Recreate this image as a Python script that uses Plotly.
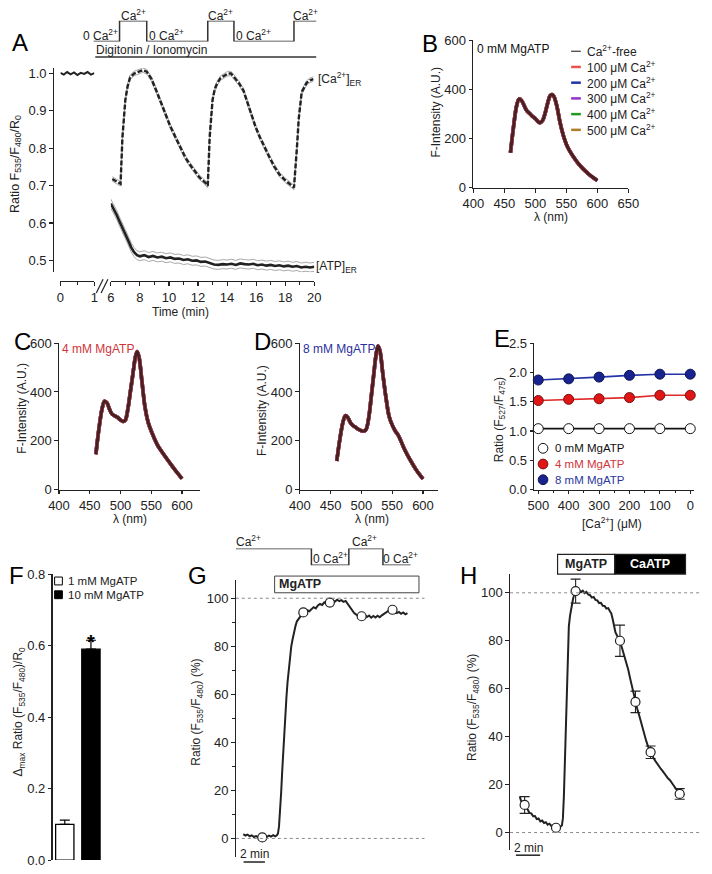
import plotly.graph_objects as go

W, H = 712, 874
FONT = "Arial, Liberation Sans, DejaVu Sans, sans-serif"
INK = "#222222"
TICK = 13

# ===================== DATA =====================
# Panel A - ER Ca2+ / ATP sensor ratio (time, min)
a_base_t = [0.0, 0.1, 0.2, 0.3, 0.4, 0.5, 0.6, 0.7, 0.8, 0.9, 1.0]
a_base_v = [1.002, 0.997, 1.004, 0.998, 1.003, 0.996, 1.002, 0.999, 1.004, 0.997, 1.001]
ca_t = [6.1, 6.3, 6.5, 6.67, 6.8, 6.9, 7.0, 7.15, 7.33, 7.6, 8.0, 8.2, 8.47, 8.8, 9.13, 9.45,
        9.8, 10.1, 10.47, 10.8, 11.13, 11.45, 11.8, 12.1, 12.47, 12.67, 12.8, 12.9, 13.0,
        13.15, 13.33, 13.55, 13.8, 14.05, 14.27, 14.5, 14.8, 15.13, 15.4, 15.67, 15.95,
        16.27, 16.6, 16.93, 17.25, 17.6, 17.95, 18.27, 18.6, 18.8, 18.93, 19.13, 19.47,
        19.7, 19.93]
ca_v = [0.718, 0.714, 0.709, 0.705, 0.83, 0.89, 0.93, 0.965, 0.99, 1.0, 1.006, 1.009, 1.005,
        0.985, 0.954, 0.922, 0.889, 0.858, 0.828, 0.8, 0.775, 0.756, 0.739, 0.722, 0.709,
        0.70, 0.83, 0.89, 0.93, 0.958, 0.975, 0.988, 0.995, 1.0, 1.0, 0.99, 0.975, 0.954,
        0.922, 0.889, 0.858, 0.828, 0.8, 0.775, 0.751, 0.73, 0.716, 0.705, 0.695, 0.80,
        0.88, 0.95, 0.975, 0.982, 0.985]
ca_sem = 0.006
atp_t = [6.0, 6.2, 6.4, 6.6, 6.8, 7.0, 7.2, 7.4, 7.6, 7.8, 8.0, 8.3, 8.6, 8.9, 9.2, 9.5, 9.8,
         10.1, 10.4, 10.7, 11.0, 11.3, 11.6, 11.9, 12.2, 12.5, 12.8, 13.1, 13.4, 13.7, 14.0,
         14.3, 14.6, 14.9, 15.2, 15.5, 15.8, 16.1, 16.4, 16.7, 17.0, 17.3, 17.6, 17.9, 18.2,
         18.5, 18.8, 19.1, 19.4, 19.7, 20.0]
atp_v = [0.652, 0.638, 0.622, 0.604, 0.588, 0.571, 0.553, 0.535, 0.522, 0.514, 0.511, 0.514,
         0.509, 0.512, 0.508, 0.510, 0.506, 0.508, 0.504, 0.505, 0.501, 0.503, 0.499, 0.500,
         0.496, 0.497, 0.492, 0.489, 0.488, 0.490, 0.489, 0.491, 0.488, 0.492, 0.490, 0.489,
         0.491, 0.487, 0.489, 0.486, 0.488, 0.485, 0.487, 0.484, 0.486, 0.483, 0.485, 0.481,
         0.483, 0.481, 0.483]
atp_sem = 0.012
protoA_t = [4.8, 6.6, 8.47, 12.67, 14.47, 18.6, 20.13]
protoA_lvl = [0, 1, 0, 1, 0, 1, 1]
digitonin_span = [4.93, 20.13]

# Panels B-D - emission spectra (all Ca2+ conditions overlap)
wl = [460, 465, 470, 474, 478, 482, 486, 490, 495, 500, 505, 508, 512, 516, 520, 524, 527,
      530, 535, 540, 545, 550, 555, 560, 570, 580, 590, 600]
spec_B = [143, 250, 335, 362, 355, 335, 315, 305, 292, 282, 268, 265, 275, 305, 345, 375, 380,
          372, 330, 265, 215, 178, 152, 132, 97, 70, 48, 30]
spec_C = [145, 250, 330, 362, 355, 330, 310, 303, 296, 285, 279, 285, 330, 400, 470, 540, 566,
          545, 440, 335, 275, 240, 210, 183, 145, 110, 76, 45]
spec_D = [117, 205, 275, 303, 295, 275, 263, 256, 247, 241, 240, 248, 295, 380, 470, 555, 588,
          570, 470, 375, 300, 265, 240, 222, 165, 118, 77, 44]
ca_conditions = ["Ca<sup>2+</sup>-free", "100 μM Ca<sup>2+</sup>", "200 μM Ca<sup>2+</sup>",
                 "300 μM Ca<sup>2+</sup>", "400 μM Ca<sup>2+</sup>", "500 μM Ca<sup>2+</sup>"]
ca_colors = ["#111111", "#e8524a", "#2433a6", "#9b2fc9", "#1e9b1e", "#b07d2a"]

# Panel E - ratio vs [Ca2+]
e_ca = [500, 400, 300, 200, 100, 0]
e_0mM = [1.04, 1.04, 1.04, 1.04, 1.04, 1.04]
e_4mM = [1.52, 1.54, 1.55, 1.57, 1.61, 1.61]
e_8mM = [1.87, 1.89, 1.92, 1.95, 1.97, 1.97]

# Panel F - bars
f_labels = ["1 mM MgATP", "10 mM MgATP"]
f_vals = [0.10, 0.59]
f_err = [0.012, 0.025]

# Panel G - trace (min, %)
g_pts = [(0.7, 1.8), (0.9, 1.2), (1.1, 1.6), (1.3, 0.9), (1.5, 1.3), (1.7, 0.6), (1.9, 1.0),
         (2.1, 0.5), (2.3, 0.8), (2.5, 0.4), (2.7, 0.9), (2.9, 0.6), (3.1, 1.2), (3.3, 0.8),
         (3.5, 1.4), (3.7, 0.9), (3.85, 1.3), (3.95, 2.0), (4.05, 5), (4.15, 11), (4.25, 19),
         (4.35, 28), (4.45, 37), (4.55, 46), (4.65, 53), (4.75, 59), (4.85, 65), (4.97, 71),
         (5.1, 76), (5.2, 80), (5.33, 83), (5.45, 86), (5.6, 88.5), (5.73, 90.4), (5.9, 91.5),
         (6.05, 92.8), (6.2, 93.6), (6.33, 94.1), (6.5, 93.8), (6.7, 95), (6.9, 94.6),
         (7.1, 95.6), (7.3, 96.3), (7.5, 95.8), (7.7, 97), (7.9, 97.6), (8.1, 97.2),
         (8.3, 98.3), (8.5, 97.8), (8.7, 98.6), (8.9, 98.1), (9.1, 99), (9.3, 98.6),
         (9.5, 99.4), (9.7, 98.8), (9.9, 99.2), (10.1, 98.5), (10.3, 98.9), (10.5, 97.6),
         (10.7, 96), (10.9, 94.6), (11.1, 93.8), (11.3, 93.2), (11.5, 92.4), (11.7, 93),
         (11.9, 92.4), (12.1, 93), (12.3, 92.2), (12.5, 92.8), (12.7, 91.9), (12.9, 92.6),
         (13.1, 92), (13.3, 92.7), (13.5, 92.1), (13.7, 92.9), (13.9, 93.5), (14.1, 94.2),
         (14.3, 94.8), (14.5, 95.3), (14.7, 95.2), (14.9, 94.4), (15.1, 93.8), (15.3, 94.3),
         (15.5, 93.5), (15.7, 94.1), (15.9, 93.3), (16.1, 93.8)]
g_circ_t = [2.48, 6.33, 8.82, 11.8, 14.7]
g_circ_v = [0.4, 94.1, 98.2, 92.5, 95.2]
protoG_t = [0, 7.09, 10.6, 13.8, 16.4]
protoG_lvl = [1, 0, 1, 0, 0]
g_mgatp_span = [3.64, 17.18]

# Panel H - trace (min, %)
h_pts = [(0.8, 15), (0.9, 13.2), (1.0, 12.6), (1.1, 11.4), (1.2, 11.0), (1.3, 10.2),
         (1.45, 9.6), (1.6, 8.2), (1.75, 8.0), (1.9, 6.8), (2.05, 6.9), (2.2, 5.6), (2.35, 5.9),
         (2.5, 4.6), (2.65, 5.0), (2.8, 4.0), (2.95, 4.3), (3.1, 3.3), (3.25, 3.7), (3.4, 2.8),
         (3.55, 3.0), (3.7, 2.0), (3.85, 1.8), (4.0, 2.2), (4.15, 2.4), (4.28, 3.0), (4.36, 6),
         (4.44, 15), (4.52, 30), (4.6, 48), (4.68, 65), (4.76, 78), (4.85, 86), (4.95, 90.5),
         (5.08, 94.5), (5.2, 97.5), (5.3, 99.3), (5.41, 100.7), (5.55, 100.2), (5.7, 101),
         (5.85, 100.3), (6.0, 100.9), (6.15, 99.9), (6.3, 100.4), (6.45, 99.3), (6.6, 99.0),
         (6.75, 98.0), (6.9, 98.3), (7.05, 97.0), (7.2, 96.8), (7.35, 95.7), (7.5, 95.8),
         (7.65, 94.6), (7.8, 94.5), (7.95, 93.4), (8.1, 93.6), (8.25, 92.2), (8.35, 91.5),
         (8.45, 89.5), (8.55, 86.5), (8.7, 83.5), (8.85, 82), (9.0, 80.8), (9.15, 78.5),
         (9.3, 76), (9.45, 73.5), (9.6, 71), (9.75, 68), (9.9, 64.5), (10.05, 61), (10.2, 57.5),
         (10.35, 54.5), (10.5, 51.5), (10.65, 49), (10.8, 46), (10.95, 43), (11.1, 40.5),
         (11.25, 38), (11.4, 35.8), (11.55, 34), (11.7, 32.5), (11.85, 31), (12.0, 29.8),
         (12.15, 28.6), (12.3, 27.8), (12.45, 26.5), (12.6, 25.6), (12.75, 24.4), (12.9, 23.6),
         (13.05, 22.5), (13.2, 21.8), (13.35, 20.4), (13.5, 19.6), (13.65, 18.5), (13.8, 17.8),
         (13.95, 16.8), (14.1, 16.6), (14.25, 16.0), (14.4, 15.7)]
h_circ_t = [1.2, 3.79, 5.41, 9.07, 10.35, 11.6, 14.0]
h_circ_v = [11.5, 2.0, 100.7, 80.0, 54.5, 33.5, 16.1]
h_err = [3.5, 0, 5.0, 6.5, 4.5, 2.6, 2.2]
h_mgatp_span = [3.92, 8.64]
h_caatp_span = [8.64, 14.48]

# ===================== HELPERS =====================
def dx(a, b):
    return [a / W, b / W]

def dy(top, bottom):
    return [1 - bottom / H, 1 - top / H]

fig = go.Figure()
annotations = []
shapes = []

def add_line(x, y, xa, ya, color=INK, width=1.5, dash=None, shape="linear", opacity=1.0):
    fig.add_trace(go.Scatter(x=x, y=y, xaxis=xa, yaxis=ya, mode="lines",
                             line=dict(color=color, width=width, dash=dash, shape=shape),
                             opacity=opacity, showlegend=False, hoverinfo="skip"))

def ann(text, x, y, size=12, color=INK, xanchor="center", yanchor="middle", xref="paper",
        angle=0, bold=False):
    if bold:
        text = "<b>" + text + "</b>"
    annotations.append(dict(text=text, x=(x / W if xref == "paper" else x), y=1 - y / H,
                            xref=xref, yref="paper", xanchor=xanchor, yanchor=yanchor,
                            showarrow=False, textangle=angle, borderpad=0,
                            font=dict(size=size, color=color, family=FONT)))

def seg_px(x0, y0, x1, y1, color=INK, width=1.2):
    shapes.append(dict(type="line", xref="paper", yref="paper", x0=x0 / W, x1=x1 / W,
                       y0=1 - y0 / H, y1=1 - y1 / H, line=dict(color=color, width=width)))

def rect(x0, x1, ytop, ybot, xref="paper", fill="white", lc=INK, lw=1.0):
    if xref == "paper":
        x0, x1 = x0 / W, x1 / W
    shapes.append(dict(type="rect", xref=xref, yref="paper", x0=x0, x1=x1,
                       y0=1 - ybot / H, y1=1 - ytop / H, fillcolor=fill,
                       line=dict(color=lc, width=lw)))

def axstyle(**kw):
    base = dict(showline=True, linecolor=INK, linewidth=1.2, ticks="outside", ticklen=3.5,
                tickwidth=1.1, tickcolor=INK, showgrid=False, zeroline=False,
                tickfont=dict(size=TICK, color=INK, family=FONT), fixedrange=True)
    base.update(kw)
    return base

# ===================== PANEL A =====================
add_line(a_base_t, a_base_v, "x", "y", width=2)
add_line(ca_t, [v + ca_sem for v in ca_v], "x2", "y", color="#a8a8a8", width=1)
add_line(ca_t, [v - ca_sem for v in ca_v], "x2", "y", color="#a8a8a8", width=1)
add_line(ca_t, ca_v, "x2", "y", width=2.4, dash="5px,2px")
add_line(atp_t, [v + atp_sem for v in atp_v], "x2", "y", color="#a8a8a8", width=1)
add_line(atp_t, [v - atp_sem for v in atp_v], "x2", "y", color="#a8a8a8", width=1)
add_line(atp_t, atp_v, "x2", "y", width=2.6)
add_line(protoA_t, protoA_lvl, "x3", "y3", color="#333333", width=1.5, shape="hv")
shapes.append(dict(type="line", xref="x3", yref="paper", x0=digitonin_span[0],
                   x1=digitonin_span[1], y0=1 - 51 / H, y1=1 - 51 / H,
                   line=dict(color="#333333", width=1.5)))
ann("0 Ca<sup>2+</sup>", protoA_t[1] - 0.05, 28, xanchor="right", xref="x3")
ann("Ca<sup>2+</sup>", (protoA_t[1] + protoA_t[2]) / 2, 8, xref="x3")
ann("0 Ca<sup>2+</sup>", protoA_t[2] + 0.1, 28, xanchor="left", xref="x3")
ann("Ca<sup>2+</sup>", (protoA_t[3] + protoA_t[4]) / 2, 8, xref="x3")
ann("0 Ca<sup>2+</sup>", protoA_t[4] + 0.1, 28, xanchor="left", xref="x3")
ann("Ca<sup>2+</sup>", (protoA_t[5] + protoA_t[6]) / 2, 8, xref="x3")
ann("Digitonin / Ionomycin", digitonin_span[0], 44, xanchor="left", xref="x3")
ann("[Ca<sup>2+</sup>]<sub>ER</sub>", 316, 73, xanchor="left")
ann("[ATP]<sub>ER</sub>", 314, 265, xanchor="left")
# axis break
seg_px(88, 291, 95, 277, width=1.2)
seg_px(93, 291, 100, 277, width=1.2)
ann("Ratio F<sub>535</sub>/F<sub>480</sub>/R<sub>0</sub>", 5, 160, angle=-90, size=12.5)
ann("Time (min)", 175, 310)
ann("A", 9, 36, size=24, color="black")

# ===================== PANELS B-D =====================
def spectra(spec, xa, ya):
    order = [4, 5, 2, 3, 1]
    for i in order:
        add_line(wl, spec, xa, ya, color=ca_colors[i], width=3.6, shape="spline")
    add_line(wl, spec, xa, ya, color=ca_colors[0], width=3.0, shape="spline", opacity=0.75)

spectra(spec_B, "x4", "y4")
spectra(spec_C, "x5", "y5")
spectra(spec_D, "x6", "y6")

ann("0 mM MgATP", 480, 43, xanchor="left", color="#111111")
legB_y = [45, 61, 77, 93, 109, 125]
for i, (lab, col) in enumerate(zip(ca_conditions, ca_colors)):
    seg_px(578, legB_y[i], 588, legB_y[i], color=col, width=1.0 if i == 0 else 2.5)
    ann(lab, 593, legB_y[i], size=12, xanchor="left")
ann("F-Intensity (A.U.)", 439, 107, angle=-90)
ann("λ (nm)", 557, 214)
ann("B", 432, 37, size=24, color="black")

ann("4 mM MgATP", 52, 348, xanchor="left", color="#d0343a")
ann("F-Intensity (A.U.)", 11, 408, angle=-90)
ann("λ (nm)", 123, 521)
ann("C", 12, 340, size=24, color="black")

ann("8 mM MgATP", 300, 348, xanchor="left", color="#2b2f9e")
ann("F-Intensity (A.U.)", 259, 410, angle=-90)
ann("λ (nm)", 373, 521)
ann("D", 260, 340, size=24, color="black")

# ===================== PANEL E =====================
e_series = [(e_0mM, "#111111", "white", "#111111", "0 mM MgATP", "#111111"),
            (e_4mM, "#e02a2a", "#e01515", "#7a1010", "4 mM MgATP", "#d0343a"),
            (e_8mM, "#2633a8", "#18238f", "#0d1550", "8 mM MgATP", "#2b36a0")]
legE_y = [449, 465, 481]
for k, (vals, lc, fc, mlc, lab, tc) in enumerate(e_series):
    fig.add_trace(go.Scatter(x=e_ca, y=vals, xaxis="x7", yaxis="y7", mode="lines+markers",
                             line=dict(color=lc, width=1.6),
                             marker=dict(size=10, color=fc, line=dict(color=mlc, width=1)),
                             showlegend=False, hoverinfo="skip", cliponaxis=False))
    yy = legE_y[k]
    shapes.append(dict(type="circle", xref="paper", yref="paper", x0=544 / W, x1=554 / W,
                       y0=1 - (yy + 5) / H, y1=1 - (yy - 5) / H, fillcolor=fc,
                       line=dict(color=mlc, width=1)))
    ann(lab, 560, yy, size=11.5, xanchor="left", color=tc)
ann("Ratio (F<sub>527</sub>/F<sub>475</sub>)", 504, 420, angle=-90)
ann("[Ca<sup>2+</sup>] (μM)", 620, 525)
ann("E", 507, 337, size=24, color="black")

# ===================== PANEL F =====================
fig.add_trace(go.Bar(x=[0, 1], y=f_vals, xaxis="x8", yaxis="y8", width=0.7,
                     marker=dict(color=["white", "black"], line=dict(color="black", width=1.3)),
                     error_y=dict(type="data", symmetric=False, array=f_err,
                                  arrayminus=[0, 0], color="black", thickness=1.2, width=5),
                     showlegend=False, hoverinfo="skip"))
annotations.append(dict(text="<b>*</b>", x=1, y=1 - 646 / H, xref="x8", yref="paper",
                        showarrow=False, xanchor="center", yanchor="middle",
                        font=dict(size=20, color="black", family=FONT)))
legF_y = [584, 598]
rect(45, 53, legF_y[0] - 4, legF_y[0] + 4, fill="white", lc="black", lw=1)
rect(45, 53, legF_y[1] - 4, legF_y[1] + 4, fill="black", lc="black", lw=1)
ann(f_labels[0], 58, legF_y[0], size=11.5, xanchor="left")
ann(f_labels[1], 58, legF_y[1], size=11.5, xanchor="left")
ann("Δ<sub>max</sub> Ratio (F<sub>535</sub>/F<sub>480</sub>)/R<sub>0</sub>", 8, 717, angle=-90)
ann("F", 6, 578, size=24, color="black")

# ===================== PANEL G =====================
g_t = [p[0] for p in g_pts]
g_v = [p[1] for p in g_pts]
add_line(g_t, g_v, "x9", "y9", width=2)
fig.add_trace(go.Scatter(x=g_circ_t, y=g_circ_v, xaxis="x9", yaxis="y9", mode="markers",
                         marker=dict(size=9, color="white", line=dict(color=INK, width=1.2)),
                         showlegend=False, hoverinfo="skip", cliponaxis=False))
add_line(protoG_t, protoG_lvl, "x9", "y10", color="#333333", width=1.5, shape="hv")
for yv in (100, 0):
    shapes.append(dict(type="line", xref="x9", yref="y9", x0=0, x1=17.7, y0=yv, y1=yv,
                       line=dict(color="#8a8a8a", width=1, dash="dot")))
rect(g_mgatp_span[0], g_mgatp_span[1], 579, 596, xref="x9", fill="white", lc="#444444", lw=1)
ann("MgATP", g_mgatp_span[0] + 0.3, 587.5, size=12.5, xanchor="left", xref="x9", bold=True)
ann("Ca<sup>2+</sup>", 1.18, 543, xref="x9")
ann("0 Ca<sup>2+</sup>", 8.86, 561, xref="x9")
ann("Ca<sup>2+</sup>", 12.1, 543, xref="x9")
ann("0 Ca<sup>2+</sup>", 15.45, 561, xref="x9")
shapes.append(dict(type="line", xref="x9", yref="paper", x0=0.73, x1=2.73, y0=1 - 870 / H,
                   y1=1 - 870 / H, line=dict(color=INK, width=1.5)))
ann("2 min", 1.73, 862, xref="x9")
ann("Ratio (F<sub>535</sub>/F<sub>480</sub>) (%)", 192, 718, angle=-90)
ann("G", 192, 578, size=24, color="black")

# ===================== PANEL H =====================
h_t = [p[0] for p in h_pts]
h_v = [p[1] for p in h_pts]
add_line(h_t, h_v, "x11", "y11", width=2)
fig.add_trace(go.Scatter(x=h_circ_t, y=h_circ_v, xaxis="x11", yaxis="y11", mode="markers",
                         marker=dict(size=9, color="white", line=dict(color=INK, width=1.2)),
                         error_y=dict(type="data", array=h_err, color=INK, thickness=1.1, width=5),
                         showlegend=False, hoverinfo="skip", cliponaxis=False))
for yv in (100, 0):
    shapes.append(dict(type="line", xref="x11", yref="y11", x0=0, x1=15.76, y0=yv, y1=yv,
                       line=dict(color="#8a8a8a", width=1, dash="dot")))
rect(h_mgatp_span[0], h_mgatp_span[1], 557, 577, xref="x11", fill="white", lc=INK, lw=1.2)
rect(h_caatp_span[0], h_caatp_span[1], 557, 577, xref="x11", fill="black", lc=INK, lw=1.2)
ann("MgATP", sum(h_mgatp_span) / 2, 567, size=12.5, xref="x11", bold=True)
ann("CaATP", sum(h_caatp_span) / 2, 567, size=12.5, xref="x11", bold=True, color="white")
shapes.append(dict(type="line", xref="x11", yref="paper", x0=0.48, x1=2.48, y0=1 - 863 / H,
                   y1=1 - 863 / H, line=dict(color=INK, width=1.5)))
ann("2 min", 1.48, 856, xref="x11")
ann("Ratio (F<sub>535</sub>/F<sub>480</sub>) (%)", 477, 713, angle=-90)
ann("H", 472, 578, size=24, color="black")

# ===================== LAYOUT =====================
layout = dict(
    width=W, height=H, margin=dict(l=0, r=0, t=0, b=0),
    paper_bgcolor="white", plot_bgcolor="rgba(0,0,0,0)",
    font=dict(family=FONT, size=12, color=INK), showlegend=False,
    annotations=annotations, shapes=shapes, bargap=0,
    # Panel A
    xaxis=axstyle(domain=dx(51, 86), range=[0, 1], anchor="free", position=1 - 279 / H,
                  tickvals=[0, 1], minor=dict(dtick=0.5, ticklen=2.5, ticks="outside")),
    xaxis2=axstyle(domain=dx(103, 313), range=[6, 20], anchor="free", position=1 - 279 / H,
                   tickvals=list(range(6, 21, 2)),
                   minor=dict(dtick=1, ticklen=2.5, ticks="outside")),
    yaxis=axstyle(domain=dy(62, 270), range=[0.468, 1.015], anchor="free", position=43 / W,
                  tickvals=[0.5, 0.6, 0.7, 0.8, 0.9, 1.0], tickformat=".1f"),
    xaxis3=dict(domain=dx(85, 316), range=[4.8, 20.2], visible=False, anchor="y3"),
    yaxis3=dict(domain=dy(14, 35), range=[0, 1], visible=False, anchor="x3"),
    # Panel B
    xaxis4=axstyle(domain=dx(477, 637), range=[400, 650], anchor="y4",
                   tickvals=[400, 450, 500, 550, 600, 650]),
    yaxis4=axstyle(domain=dy(34, 184), range=[0, 600], anchor="x4", tickvals=[0, 200, 400, 600]),
    # Panel C
    xaxis5=axstyle(domain=dx(49.5, 195.5), range=[400, 630], anchor="y5",
                   tickvals=[400, 450, 500, 550, 600]),
    yaxis5=axstyle(domain=dy(342, 491), range=[0, 600], anchor="x5", tickvals=[0, 200, 400, 600]),
    # Panel D
    xaxis6=axstyle(domain=dx(298, 441), range=[400, 625], anchor="y6",
                   tickvals=[400, 450, 500, 550, 600]),
    yaxis6=axstyle(domain=dy(342, 491), range=[0, 600], anchor="x6", tickvals=[0, 200, 400, 600]),
    # Panel E
    xaxis7=axstyle(domain=dx(540, 705), range=[513, -13], anchor="y7",
                   tickvals=[500, 400, 300, 200, 100, 0],
                   minor=dict(dtick=50, ticklen=2.5, ticks="outside")),
    yaxis7=axstyle(domain=dy(342, 491), range=[0, 2.5], anchor="x7",
                   tickvals=[0, 0.5, 1.0, 1.5, 2.0, 2.5], tickformat=".1f"),
    # Panel F
    xaxis8=dict(domain=dx(43, 110), range=[-0.463, 2.02], visible=False, anchor="y8",
                fixedrange=True),
    yaxis8=axstyle(domain=dy(577, 868), range=[0, 0.8], anchor="x8",
                   tickvals=[0, 0.2, 0.4, 0.6, 0.8], tickformat=".1f"),
    # Panel G
    xaxis9=dict(domain=dx(232, 430), range=[0, 18], visible=False, anchor="y9",
                fixedrange=True),
    yaxis9=axstyle(domain=dy(583, 865), range=[-7.8, 107.6], anchor="x9",
                   tickvals=[0, 20, 40, 60, 80, 100],
                   minor=dict(dtick=10, ticklen=2.5, ticks="outside")),
    yaxis10=dict(domain=dy(551, 568), range=[0, 1], visible=False, anchor="x9",
                 fixedrange=True),
    # Panel H
    xaxis11=dict(domain=dx(515, 712), range=[0, 15.76], visible=False, anchor="y11",
                 fixedrange=True),
    yaxis11=axstyle(domain=dy(577, 858), range=[-7.4, 107.8], anchor="x11",
                    tickvals=[0, 20, 40, 60, 80, 100]),
)
fig.update_layout(**layout)
fig.write_html("out.html", config={"staticPlot": True},
               post_script="document.body.style.margin='0';document.body.style.padding='0';"
                           "document.body.style.overflow='hidden';")
